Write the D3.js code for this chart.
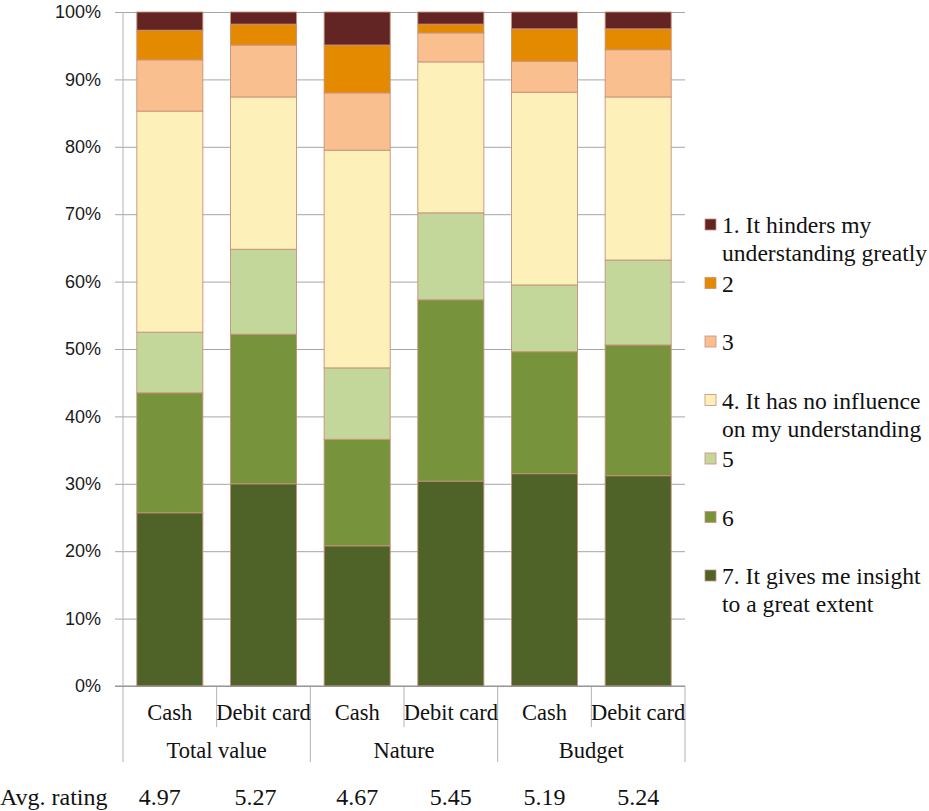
<!DOCTYPE html>
<html>
<head>
<meta charset="utf-8">
<script src="https://cdn.jsdelivr.net/npm/d3@7/dist/d3.min.js"></script>
<style>
  html, body { margin: 0; padding: 0; background: #fff; }
  svg { display: block; }
</style>
</head>
<body>
<svg id="chart" width="929" height="811"></svg>
<script>
// Bars: payment method within each information type
const groups = ["Total value", "Nature", "Budget"];
const methods = ["Cash", "Debit card"];
const avgRatings = [4.97, 5.27, 4.67, 5.45, 5.19, 5.24];

// Rating levels, bottom of the stack first (7 → 1)
const levels = ["7", "6", "5", "4", "3", "2", "1"];
const levelLabels = {
  "1": ["1. It hinders my", "understanding greatly"],
  "2": ["2"],
  "3": ["3"],
  "4": ["4. It has no influence", "on my understanding"],
  "5": ["5"],
  "6": ["6"],
  "7": ["7. It gives me insight", "to a great extent"]
};
const levelColors = {
  "1": "#632523", "2": "#e38a00", "3": "#fabf8f", "4": "#fef0b9",
  "5": "#c4d79b", "6": "#77933c", "7": "#4f6228"
};

// Share of respondents (%) per level, one value per bar in bar order
const share7 = [25.7, 30.0, 20.8, 30.4, 31.5, 31.2];
const share6 = [17.8, 22.2, 15.8, 26.9, 18.1, 19.4];
const share5 = [9.0, 12.6, 10.6, 12.9, 9.9, 12.6];
const share4 = [32.8, 22.6, 32.3, 22.4, 28.6, 24.2];
const share3 = [7.6, 7.7, 8.5, 4.3, 4.6, 7.0];
const share2 = [4.4, 3.1, 7.1, 1.3, 4.8, 3.1];
const share1 = [2.7, 1.8, 4.9, 1.8, 2.5, 2.5];

const yTicks = [0, 10, 20, 30, 40, 50, 60, 70, 80, 90, 100];

const shares = { "7": share7, "6": share6, "5": share5, "4": share4, "3": share3, "2": share2, "1": share1 };
const bars = [];
groups.forEach((g, gi) => methods.forEach((m, mi) => {
  const i = gi * methods.length + mi;
  const row = { id: g + "|" + m, group: g, method: m, avg: avgRatings[i] };
  levels.forEach(l => row[l] = shares[l][i]);
  bars.push(row);
}));

const svg = d3.select("#chart");
const plotLeft = 123, plotRight = 685, plotTop = 12, plotBottom = 686;
const serif = "'Liberation Serif', 'Times New Roman', serif";
const sans = "'Liberation Sans', Arial, sans-serif";

const x = d3.scaleBand().domain(bars.map(d => d.id)).range([plotLeft, plotRight])
  .paddingInner(0.295).paddingOuter(0.1475);
const y = d3.scaleLinear().domain([0, 100]).range([plotBottom, plotTop]);

// Horizontal gridlines and y axis
const yAxis = d3.axisLeft(y).tickValues(yTicks).tickFormat(d => d + "%")
  .tickSize(-(plotRight - plotLeft)).tickPadding(22);
const ya = svg.append("g").attr("transform", `translate(${plotLeft},0)`).call(yAxis);
ya.select(".domain").remove();
ya.selectAll(".tick line").attr("stroke", "#a6a6a6").attr("x1", -8).attr("x2", plotRight - plotLeft);
ya.selectAll(".tick text").attr("font-family", sans).attr("font-size", 18).attr("fill", "#1a1a1a");

svg.append("line").attr("x1", plotLeft).attr("x2", plotLeft).attr("y1", plotTop).attr("y2", plotBottom)
  .attr("stroke", "#b3b3b3");

// Stacked bars
const stack = d3.stack().keys(levels)(bars);
svg.append("g").selectAll("g").data(stack).join("g")
  .attr("fill", s => levelColors[s.key])
  .selectAll("rect").data(s => s).join("rect")
  .attr("x", d => x(d.data.id))
  .attr("width", x.bandwidth())
  .attr("y", d => y(d[1]))
  .attr("height", d => y(d[0]) - y(d[1]))
  .attr("stroke", "#c8907a").attr("stroke-width", 0.9);

// Category separators below the axis
const step = x.step();
const sepShort = 727, sepLong = 762;
bars.forEach((d, i) => {
  const xr = plotLeft + step * (i + 1);
  const isGroupEnd = (i + 1) % methods.length === 0;
  svg.append("line").attr("x1", xr).attr("x2", xr).attr("y1", plotBottom)
    .attr("y2", isGroupEnd ? sepLong : sepShort).attr("stroke", "#b3b3b3");
});
svg.append("line").attr("x1", plotLeft).attr("x2", plotLeft).attr("y1", plotBottom).attr("y2", sepLong)
  .attr("stroke", "#b3b3b3");
// Baseline
svg.append("line").attr("x1", plotLeft - 8).attr("x2", plotRight).attr("y1", plotBottom).attr("y2", plotBottom)
  .attr("stroke", "#8c8c8c");

// Method labels
svg.append("g").selectAll("text").data(bars).join("text")
  .attr("x", d => x(d.id) + x.bandwidth() / 2).attr("y", 720)
  .attr("text-anchor", "middle").attr("font-family", serif).attr("font-size", 22.5)
  .attr("fill", "#111").text(d => d.method);

// Group labels
svg.append("g").selectAll("text").data(groups).join("text")
  .attr("x", (g, gi) => plotLeft + step * methods.length * (gi + 0.5)).attr("y", 758)
  .attr("text-anchor", "middle").attr("font-family", serif).attr("font-size", 22.5)
  .attr("fill", "#111").text(g => g);

// Average rating row
const avgNudge = [-10, -8, 0, 0, 0, 0];
svg.append("text").attr("x", 0).attr("y", 805).attr("font-family", serif)
  .attr("font-size", 24).attr("fill", "#111").text("Avg. rating");
svg.append("g").selectAll("text").data(bars).join("text")
  .attr("x", (d, i) => x(d.id) + x.bandwidth() / 2 + avgNudge[i]).attr("y", 805)
  .attr("text-anchor", "middle").attr("font-family", serif).attr("font-size", 24)
  .attr("fill", "#111").text(d => d.avg.toFixed(2));

// Legend, level 1 at the top
const legendLevels = levels.slice().reverse();
const lg = svg.append("g").selectAll("g").data(legendLevels).join("g")
  .attr("transform", (l, i) => `translate(705,${225 + i * 58.5})`);
lg.append("rect").attr("x", 0).attr("y", -6).attr("width", 11).attr("height", 11)
  .attr("fill", l => levelColors[l]).attr("stroke", "#c8907a").attr("stroke-width", 0.8);
lg.append("text").attr("font-family", serif).attr("font-size", 23.6).attr("fill", "#111")
  .selectAll("tspan").data(l => levelLabels[l]).join("tspan")
  .attr("x", 17).attr("y", (t, j) => 8 + j * 28).text(t => t);
</script>
</body>
</html>
